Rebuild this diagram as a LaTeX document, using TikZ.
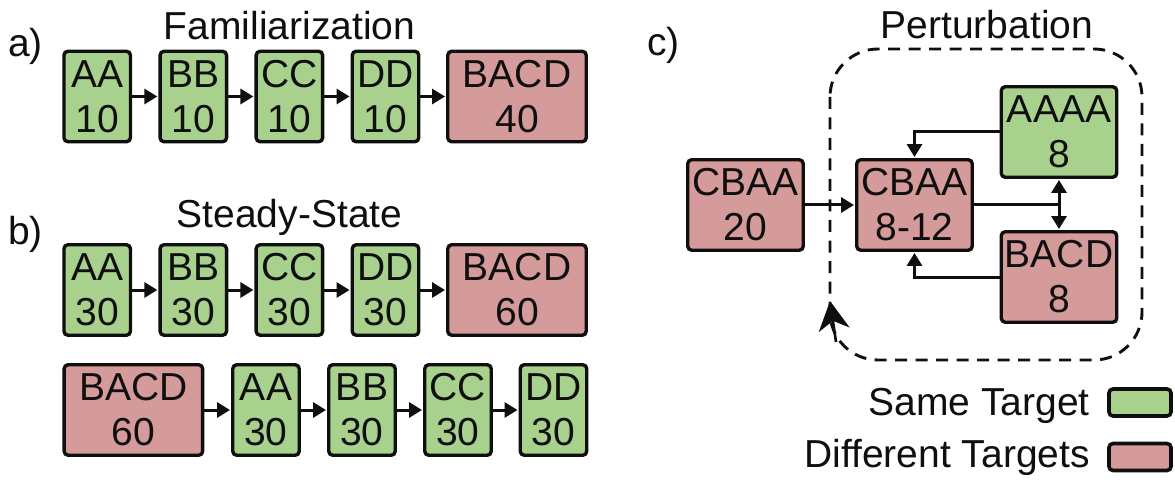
\documentclass[tikz,border=0pt]{standalone}
\usepackage{fontspec}
\setmainfont{Liberation Sans}
\usetikzlibrary{arrows.meta}
\definecolor{same}{RGB}{169,209,142}
\definecolor{diff}{RGB}{213,154,154}
\definecolor{ink}{RGB}{15,15,15}

\begin{document}
\begin{tikzpicture}[x=1pt,y=-1pt,
  every node/.style={font=\fontsize{39}{45}\selectfont, inner sep=0pt, text=ink},
  blk/.style={draw=ink, line width=3.4pt, rounded corners=4pt, align=center,
              minimum height=90.5pt},
  narrow/.style={blk, minimum width=66.5pt, fill=same},
  wide/.style={blk, minimum width=138.5pt, fill=diff},
  cbox/.style={blk, minimum width=115.5pt},
  keybox/.style={draw=ink, line width=3.6pt, rounded corners=4pt,
                 minimum width=62pt, minimum height=27pt},
  arr/.style={draw=ink, line width=3pt, shorten >=1pt,
              -{Triangle[length=13pt,width=15pt]}},
  link/.style={draw=ink, line width=3pt},
  loopline/.style={draw=ink, line width=2.9pt, dash pattern=on 12pt off 8.5pt,
                   rounded corners=48pt},
  title/.style={anchor=base},
  tag/.style={anchor=base west}
]
\useasboundingbox (0,0) rectangle (1175,481);

% ---------- a) Familiarization ----------
\node[tag] (taga) at (8,57) {a)};
\node[title] (fam) at (289.5,39.5) {Familiarization};
\node[narrow] (a1) at (97.2,96.5)  {AA\\10};
\node[narrow] (a2) at (193.3,96.5) {BB\\10};
\node[narrow] (a3) at (289.4,96.5) {CC\\10};
\node[narrow] (a4) at (385.5,96.5) {DD\\10};
\node[wide]   (a5) at (517,96.5)   {BACD\\40};
\draw[arr] (a1) -- (a2);
\draw[arr] (a2) -- (a3);
\draw[arr] (a3) -- (a4);
\draw[arr] (a4) -- (a5);

% ---------- b) Steady-State ----------
\node[tag] (tagb) at (8,244) {b)};
\node[title] (steady) at (289.5,228) {Steady-State};
\node[narrow] (b1) at (97.2,290)  {AA\\30};
\node[narrow] (b2) at (193.3,290) {BB\\30};
\node[narrow] (b3) at (289.4,290) {CC\\30};
\node[narrow] (b4) at (385.5,290) {DD\\30};
\node[wide]   (b5) at (517,290)   {BACD\\60};
\draw[arr] (b1) -- (b2);
\draw[arr] (b2) -- (b3);
\draw[arr] (b3) -- (b4);
\draw[arr] (b4) -- (b5);

\node[wide]   (s1) at (133.4,410) {BACD\\60};
\node[narrow] (s2) at (266,410)   {AA\\30};
\node[narrow] (s3) at (362,410)   {BB\\30};
\node[narrow] (s4) at (458,410)   {CC\\30};
\node[narrow] (s5) at (553.5,410) {DD\\30};
\draw[arr] (s1) -- (s2);
\draw[arr] (s2) -- (s3);
\draw[arr] (s3) -- (s4);
\draw[arr] (s4) -- (s5);

% ---------- c) Perturbation ----------
\node[tag] (tagc) at (647,56) {c)};
\node[title] (pert) at (987,39) {Perturbation};

% dashed loop around the perturbation block, with its direction marker
\coordinate (loopnw) at (830,49);
\coordinate (loopse) at (1142,360);
\draw[loopline] (loopnw) rectangle (loopse);
\coordinate (markfrom) at (836,342);
\coordinate (markto) at (830,301);
\draw[draw=ink, line width=2.6pt,
      -{Stealth[length=29pt,width=31pt,inset=9pt]}] (markfrom) -- (markto);

\node[cbox, fill=diff] (c0) at (745.5,205) {CBAA\\20};
\node[cbox, fill=diff] (c1) at (914.5,205) {CBAA\\8-12};
\node[cbox, fill=same] (c2) at (1059,132) {AAAA\\8};
\node[cbox, fill=diff] (c3) at (1059,277) {BACD\\8};

\draw[arr] (c0) -- (c1);
\draw[arr] (c2.west) -| (c1.north);
\draw[arr] (c3.west) -| (c1.south);
\coordinate (split) at (c2.south |- c1.east);
\draw[link] (c1.east) -- (split);
\draw[arr] (split) -- (c2.south);
\draw[arr] (split) -- (c3.north);

% ---------- legend ----------
\node[anchor=base east] (lsame) at (1090,415) {Same Target};
\node[keybox, fill=same] (ksame) at (1140,402.5) {};
\node[anchor=base east] (ldiff) at (1090,467) {Different Targets};
\node[keybox, fill=diff] (kdiff) at (1140,457) {};
\end{tikzpicture}
\end{document}
